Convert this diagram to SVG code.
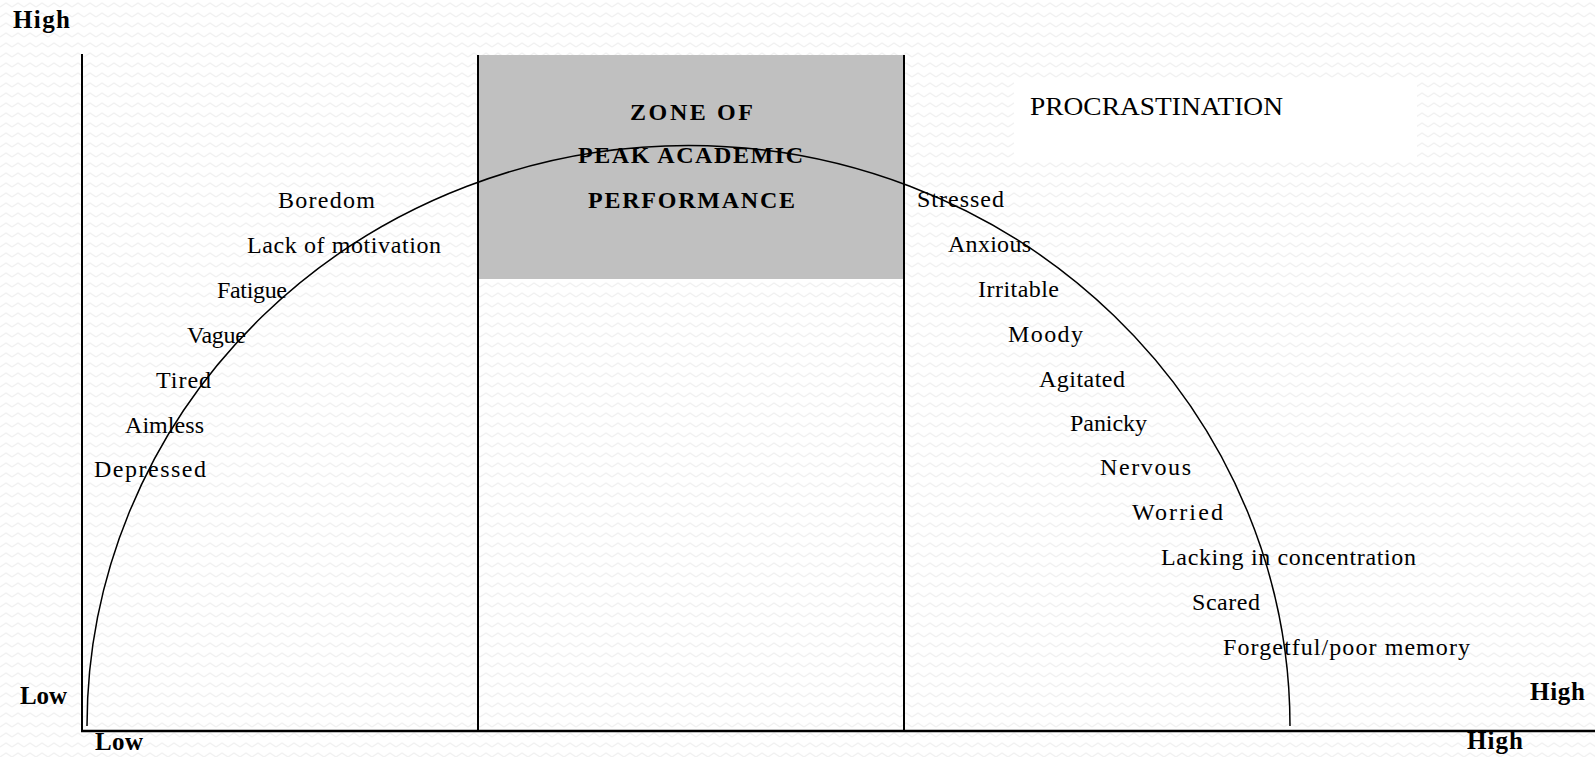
<svg xmlns="http://www.w3.org/2000/svg" width="1595" height="757" viewBox="0 0 1595 757">
<style>
.lbl{font-family:"Liberation Serif","Times New Roman",serif;font-size:24px;fill:#000}
.bold{font-family:"Liberation Serif","Times New Roman",serif;font-size:25px;font-weight:bold;fill:#000}
.zone{font-family:"Liberation Serif","Times New Roman",serif;font-size:24px;font-weight:bold;fill:#000}
.axis{stroke:#000;stroke-width:2;fill:none}
</style>
<defs>
<pattern id="bg" width="12" height="10" patternUnits="userSpaceOnUse">
<rect width="12" height="10" fill="#ffffff"/>
<polyline points="0,7 6,3 12,7" fill="none" stroke="#f1f1f1" stroke-width="1.3"/>
</pattern>
</defs>
<rect id="background" x="0" y="0" width="1595" height="757" fill="url(#bg)"/>
<g id="procrastination">
<rect x="1014" y="80" width="403" height="80" fill="#ffffff"/>
<text class="lbl" x="1030" y="115" style="font-size:26px" textLength="253" lengthAdjust="spacingAndGlyphs">PROCRASTINATION</text>
</g>
<g id="zone">
<rect x="478" y="55" width="426" height="224" fill="#c0c0c0"/>
<text class="zone" x="630" y="120" textLength="123">ZONE OF</text>
<text class="zone" x="578" y="163" textLength="225">PEAK ACADEMIC</text>
<text class="zone" x="588" y="208" textLength="207">PERFORMANCE</text>
</g>
<g id="connectors">
<line class="axis" x1="82" y1="54" x2="82" y2="731"/>
<line class="axis" x1="478" y1="55" x2="478" y2="731"/>
<line class="axis" x1="904" y1="55" x2="904" y2="731"/>
<line class="axis" x1="81" y1="731" x2="1595" y2="731" style="stroke-width:2.5"/>
<path id="curve" d="M 87 726 A 601 580 0 0 1 1290 726" fill="none" stroke="#000" stroke-width="1.5"/>
</g>
<g id="axis-labels">
<text class="bold" x="13" y="28" textLength="57">High</text>
<text class="bold" x="20" y="704" textLength="47">Low</text>
<text class="bold" x="95" y="750" textLength="48">Low</text>
<text class="bold" x="1530" y="700" textLength="55">High</text>
<text class="bold" x="1467" y="749" textLength="56">High</text>
</g>
<g id="left-labels">
<text class="lbl" x="278" y="208" textLength="97">Boredom</text>
<text class="lbl" x="247" y="253" textLength="194">Lack of motivation</text>
<text class="lbl" x="217" y="298" textLength="70">Fatigue</text>
<text class="lbl" x="187" y="343" textLength="59">Vague</text>
<text class="lbl" x="156" y="388" textLength="55">Tired</text>
<text class="lbl" x="125" y="433" textLength="79">Aimless</text>
<text class="lbl" x="94" y="477" textLength="112">Depressed</text>
</g>
<g id="right-labels">
<text class="lbl" x="917" y="207" textLength="87">Stressed</text>
<text class="lbl" x="948" y="252" textLength="83">Anxious</text>
<text class="lbl" x="978" y="297" textLength="81">Irritable</text>
<text class="lbl" x="1008" y="342" textLength="75">Moody</text>
<text class="lbl" x="1039" y="387" textLength="86">Agitated</text>
<text class="lbl" x="1070" y="431" textLength="77">Panicky</text>
<text class="lbl" x="1100" y="475" textLength="91">Nervous</text>
<text class="lbl" x="1132" y="520" textLength="91">Worried</text>
<text class="lbl" x="1161" y="565" textLength="255">Lacking in concentration</text>
<text class="lbl" x="1192" y="610" textLength="68">Scared</text>
<text class="lbl" x="1223" y="655" textLength="247">Forgetful/poor memory</text>
</g>
</svg>
